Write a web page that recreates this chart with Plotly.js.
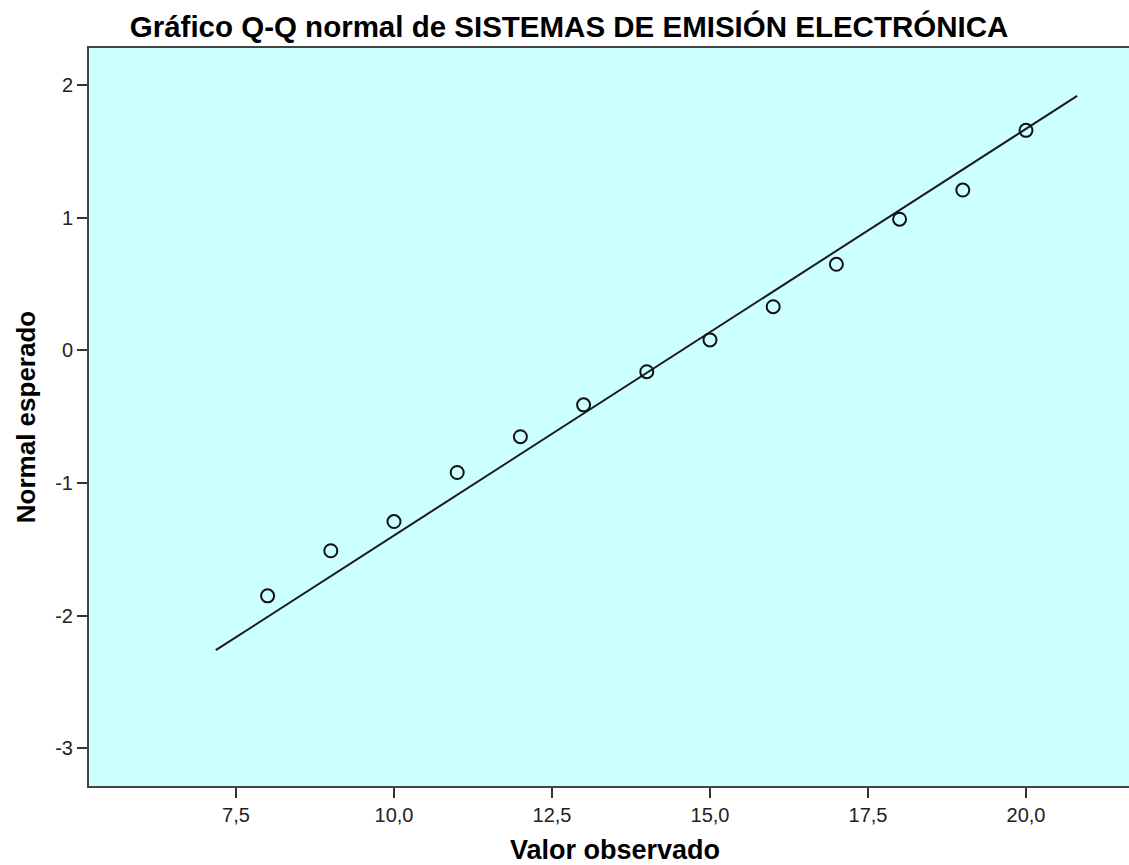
<!DOCTYPE html>
<html>
<head>
<meta charset="utf-8">
<script src="https://cdn.plot.ly/plotly-3.0.1.min.js"></script>
<style>html,body{margin:0;padding:0;background:#fff;}#chart{width:1129px;height:865px;}</style>
</head>
<body>
<div id="chart"></div>
<script>
// Observed values and expected normal quantiles
var observed = [8, 9, 10, 11, 12, 13, 14, 15, 16, 17, 18, 19, 20];
var expectedNormal = [-1.85, -1.51, -1.29, -0.92, -0.65, -0.41, -0.16, 0.08, 0.33, 0.65, 0.99, 1.21, 1.66];
// Reference line endpoints
var lineX = [7.18, 20.81];
var lineY = [-2.26, 1.92];
var xTickVals = [7.5, 10.0, 12.5, 15.0, 17.5, 20.0];
var xTickText = ["7,5", "10,0", "12,5", "15,0", "17,5", "20,0"];
var yTickVals = [-3, -2, -1, 0, 1, 2];
var yTickText = ["-3", "-2", "-1", "0", "1", "2"];

var traces = [
  {x: lineX, y: lineY, type: 'scatter', mode: 'lines', line: {color: '#1a1a1a', width: 2}, hoverinfo: 'skip'},
  {x: observed, y: expectedNormal, type: 'scatter', mode: 'markers',
   marker: {symbol: 'circle-open', size: 13, color: '#111', line: {width: 2, color: '#111'}}}
];

var layout = {
  width: 1129, height: 865,
  margin: {l: 89, r: 0, t: 48, b: 79},
  paper_bgcolor: '#ffffff',
  plot_bgcolor: '#ccffff',
  showlegend: false,
  font: {family: 'Liberation Sans, Arial, sans-serif', color: '#222'},
  title: {text: '<b>Gráfico Q-Q normal de SISTEMAS DE EMISIÓN ELECTRÓNICA</b>',
          font: {size: 29.5, color: '#000', family: 'Liberation Sans, Arial, sans-serif'},
          x: 0.504, xref: 'container', xanchor: 'center', y: 0.969, yref: 'container', yanchor: 'middle'},
  xaxis: {
    range: [5.174, 21.63], tickvals: xTickVals, ticktext: xTickText,
    ticks: 'outside', ticklen: 10, tickwidth: 2, tickcolor: '#333',
    showline: true, linecolor: '#444', linewidth: 2, mirror: true,
    showgrid: false, zeroline: false,
    tickfont: {size: 20, color: '#222'}
  },
  yaxis: {
    range: [-3.284, 2.281], tickvals: yTickVals, ticktext: yTickText,
    ticks: 'outside', ticklen: 10, tickwidth: 2, tickcolor: '#333',
    showline: true, linecolor: '#444', linewidth: 2,
    showgrid: false, zeroline: false,
    tickfont: {size: 20, color: '#222'},
    title: {text: '<b>Normal esperado</b>', font: {size: 26, color: '#000'}, standoff: 12}
  },
  annotations: [{
    text: '<b>Valor observado</b>', xref: 'paper', yref: 'paper', x: 0.506, y: -0.0867,
    xanchor: 'center', yanchor: 'middle', showarrow: false,
    font: {size: 27, color: '#000', family: 'Liberation Sans, Arial, sans-serif'}
  }]
};

Plotly.newPlot('chart', traces, layout, {displayModeBar: false, staticPlot: true});
</script>
</body>
</html>
